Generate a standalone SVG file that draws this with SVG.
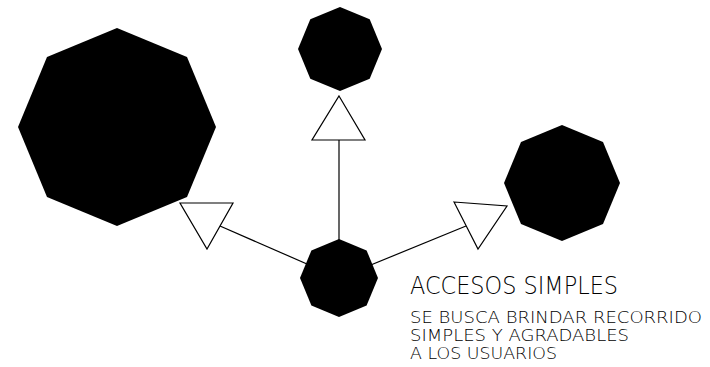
<svg xmlns="http://www.w3.org/2000/svg" width="710" height="367" viewBox="0 0 710 367">
<style>
.oct{fill:#000;stroke:none}
.tri{fill:#fff;stroke:#000;stroke-width:1.2;stroke-linejoin:miter}
.ln{stroke:#000;stroke-width:1.2;fill:none}
.t{font-family:"DejaVu Sans","Lato",sans-serif;font-weight:200;fill:#000}
.s{font-size:16px}
</style>
<rect width="710" height="367" fill="#fff"/>
<g id="connectors">
<line class="ln" x1="339" y1="278" x2="220" y2="226"/>
<line class="ln" x1="339" y1="278" x2="339" y2="140"/>
<line class="ln" x1="339" y1="278" x2="466" y2="226"/>
<polygon class="tri" points="180,203 233,203 207,249"/>
<polygon class="tri" points="339,96 365,140 312,140"/>
<polygon class="tri" points="454,202 507,206 478,249"/>
</g>
<g id="node-left">
<polygon class="oct" points="117,28 187,57 216,127 187,197 117,226 47,197 18,127 47,57"/>
</g>
<g id="node-top">
<polygon class="oct" points="340,7 369.7,19.3 382,49 369.7,78.7 340,91 310.3,78.7 298,49 310.3,19.3"/>
</g>
<g id="node-right">
<polygon class="oct" points="562,125 603,142 620,183 603,224 562,241 521,224 504,183 521,142"/>
</g>
<g id="node-center">
<polygon class="oct" points="339,239 366.6,250.4 378,278 366.6,305.6 339,317 311.4,305.6 300,278 311.4,250.4"/>
</g>
<g id="label">
<text class="t" x="410" y="294" font-size="24" textLength="208" lengthAdjust="spacingAndGlyphs">ACCESOS SIMPLES</text>
<text class="t s" x="410" y="322.5" textLength="292" lengthAdjust="spacingAndGlyphs">SE BUSCA BRINDAR RECORRIDO</text>
<text class="t s" x="410" y="340.5" textLength="219" lengthAdjust="spacingAndGlyphs">SIMPLES Y AGRADABLES</text>
<text class="t s" x="410" y="358.5" textLength="147" lengthAdjust="spacingAndGlyphs">A LOS USUARIOS</text>
</g>
</svg>
